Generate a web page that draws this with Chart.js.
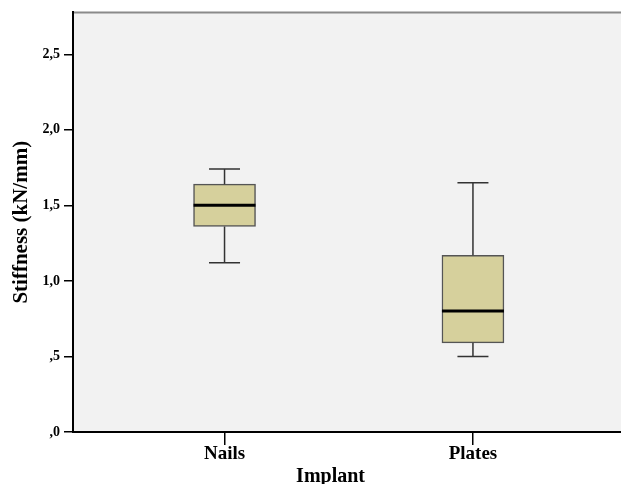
<!DOCTYPE html>
<html>
<head>
<meta charset="utf-8">
<script src="https://cdn.jsdelivr.net/npm/chart.js@4"></script>
<style>
  body { margin: 0; background: #fff; }
  canvas { display: block; }
</style>
</head>
<body>
<canvas id="chart" width="621" height="484"></canvas>
<script>
const implants = ['Nails', 'Plates'];
const positions = [1, 2];
const whiskerLow = [1.12, 0.50];
const q1 = [1.36, 0.59];
const median = [1.50, 0.80];
const q3 = [1.64, 1.17];
const whiskerHigh = [1.74, 1.65];
const yTicks = [0, 0.5, 1, 1.5, 2, 2.5];
const yTickLabels = [',0', ',5', '1,0', '1,5', '2,0', '2,5'];

const serif = '"Liberation Serif", "Times New Roman", serif';

// plot background + grey top border
const plotBg = {
    id: 'plotBg',
    beforeDraw(chart) {
        const { ctx, chartArea: a } = chart;
        ctx.save();
        ctx.fillStyle = '#f2f2f2';
        ctx.fillRect(a.left, a.top, a.right - a.left, a.bottom - a.top);
        ctx.strokeStyle = '#8a8a8a';
        ctx.lineWidth = 2;
        ctx.beginPath();
        ctx.moveTo(a.left, a.top);
        ctx.lineTo(a.right, a.top);
        ctx.stroke();
        ctx.restore();
    }
};

// whiskers and median drawn from the bar elements and the y scale
const boxParts = {
    id: 'boxParts',
    afterDatasetsDraw(chart) {
        const { ctx } = chart;
        const y = chart.scales.y;
        const bars = chart.getDatasetMeta(0).data;
        ctx.save();
        bars.forEach((bar, i) => {
            const half = bar.width / 2;
            const cap = bar.width / 4;
            ctx.strokeStyle = '#333';
            ctx.lineWidth = 1.5;
            ctx.beginPath();
            ctx.moveTo(bar.x, y.getPixelForValue(whiskerHigh[i]));
            ctx.lineTo(bar.x, y.getPixelForValue(q3[i]));
            ctx.moveTo(bar.x, y.getPixelForValue(q1[i]));
            ctx.lineTo(bar.x, y.getPixelForValue(whiskerLow[i]));
            ctx.moveTo(bar.x - cap, y.getPixelForValue(whiskerHigh[i]));
            ctx.lineTo(bar.x + cap, y.getPixelForValue(whiskerHigh[i]));
            ctx.moveTo(bar.x - cap, y.getPixelForValue(whiskerLow[i]));
            ctx.lineTo(bar.x + cap, y.getPixelForValue(whiskerLow[i]));
            ctx.stroke();

            ctx.strokeStyle = '#000';
            ctx.lineWidth = 3;
            ctx.beginPath();
            ctx.moveTo(bar.x - half, y.getPixelForValue(median[i]));
            ctx.lineTo(bar.x + half, y.getPixelForValue(median[i]));
            ctx.stroke();
        });
        ctx.restore();
    }
};

// x axis title, sits a bit left of centre like the original
const xTitle = {
    id: 'xTitle',
    afterDraw(chart) {
        const { ctx, chartArea: a } = chart;
        ctx.save();
        ctx.font = 'bold 20px ' + serif;
        ctx.fillStyle = '#000';
        ctx.textAlign = 'center';
        ctx.textBaseline = 'alphabetic';
        ctx.fillText('Implant', a.left + (a.right - a.left) * 0.47, chart.height - 2);
        ctx.restore();
    }
};

new Chart(document.getElementById('chart'), {
    type: 'bar',
    data: {
        datasets: [{
            data: positions.map((x, i) => ({ x, y: [q1[i], q3[i]] })),
            backgroundColor: '#d6d09c',
            borderColor: '#555',
            borderWidth: 1.5,
            borderSkipped: false,
            barThickness: 62
        }]
    },
    options: {
        responsive: false,
        animation: false,
        devicePixelRatio: 1,
        layout: { padding: { top: 11, right: 0, left: 0, bottom: 0 } },
        plugins: { legend: { display: false }, tooltip: { enabled: false } },
        scales: {
            x: {
                type: 'linear',
                offset: false,
                min: 0.39,
                max: 2.596,
                afterBuildTicks: s => { s.ticks = positions.map(v => ({ value: v })); },
                afterFit: s => { s.height = 52; },
                ticks: {
                    callback: (v) => implants[positions.indexOf(v)],
                    color: '#000',
                    font: { family: serif, size: 19, weight: 'bold' },
                    padding: -2
                },
                grid: { offset: false, drawOnChartArea: false, drawTicks: true, tickLength: 13, color: '#000', lineWidth: 1.5 },
                border: { display: true, color: '#000', width: 2 }
            },
            y: {
                min: 0,
                max: 2.777,
                afterBuildTicks: s => { s.ticks = yTicks.map(v => ({ value: v })); },
                afterFit: s => { s.width = 73; },
                ticks: {
                    callback: (v) => yTickLabels[yTicks.indexOf(v)],
                    color: '#000',
                    font: { family: serif, size: 14, weight: 'bold' },
                    padding: 4
                },
                grid: { drawOnChartArea: false, drawTicks: true, tickLength: 9, color: '#000', lineWidth: 1.5 },
                border: { display: true, color: '#000', width: 2 },
                title: {
                    display: true,
                    text: 'Stiffness (kN/mm)',
                    color: '#000',
                    font: { family: serif, size: 21, weight: 'bold' },
                    padding: { top: 9, bottom: 0 }
                }
            }
        }
    },
    plugins: [plotBg, boxParts, xTitle]
});
</script>
</body>
</html>
